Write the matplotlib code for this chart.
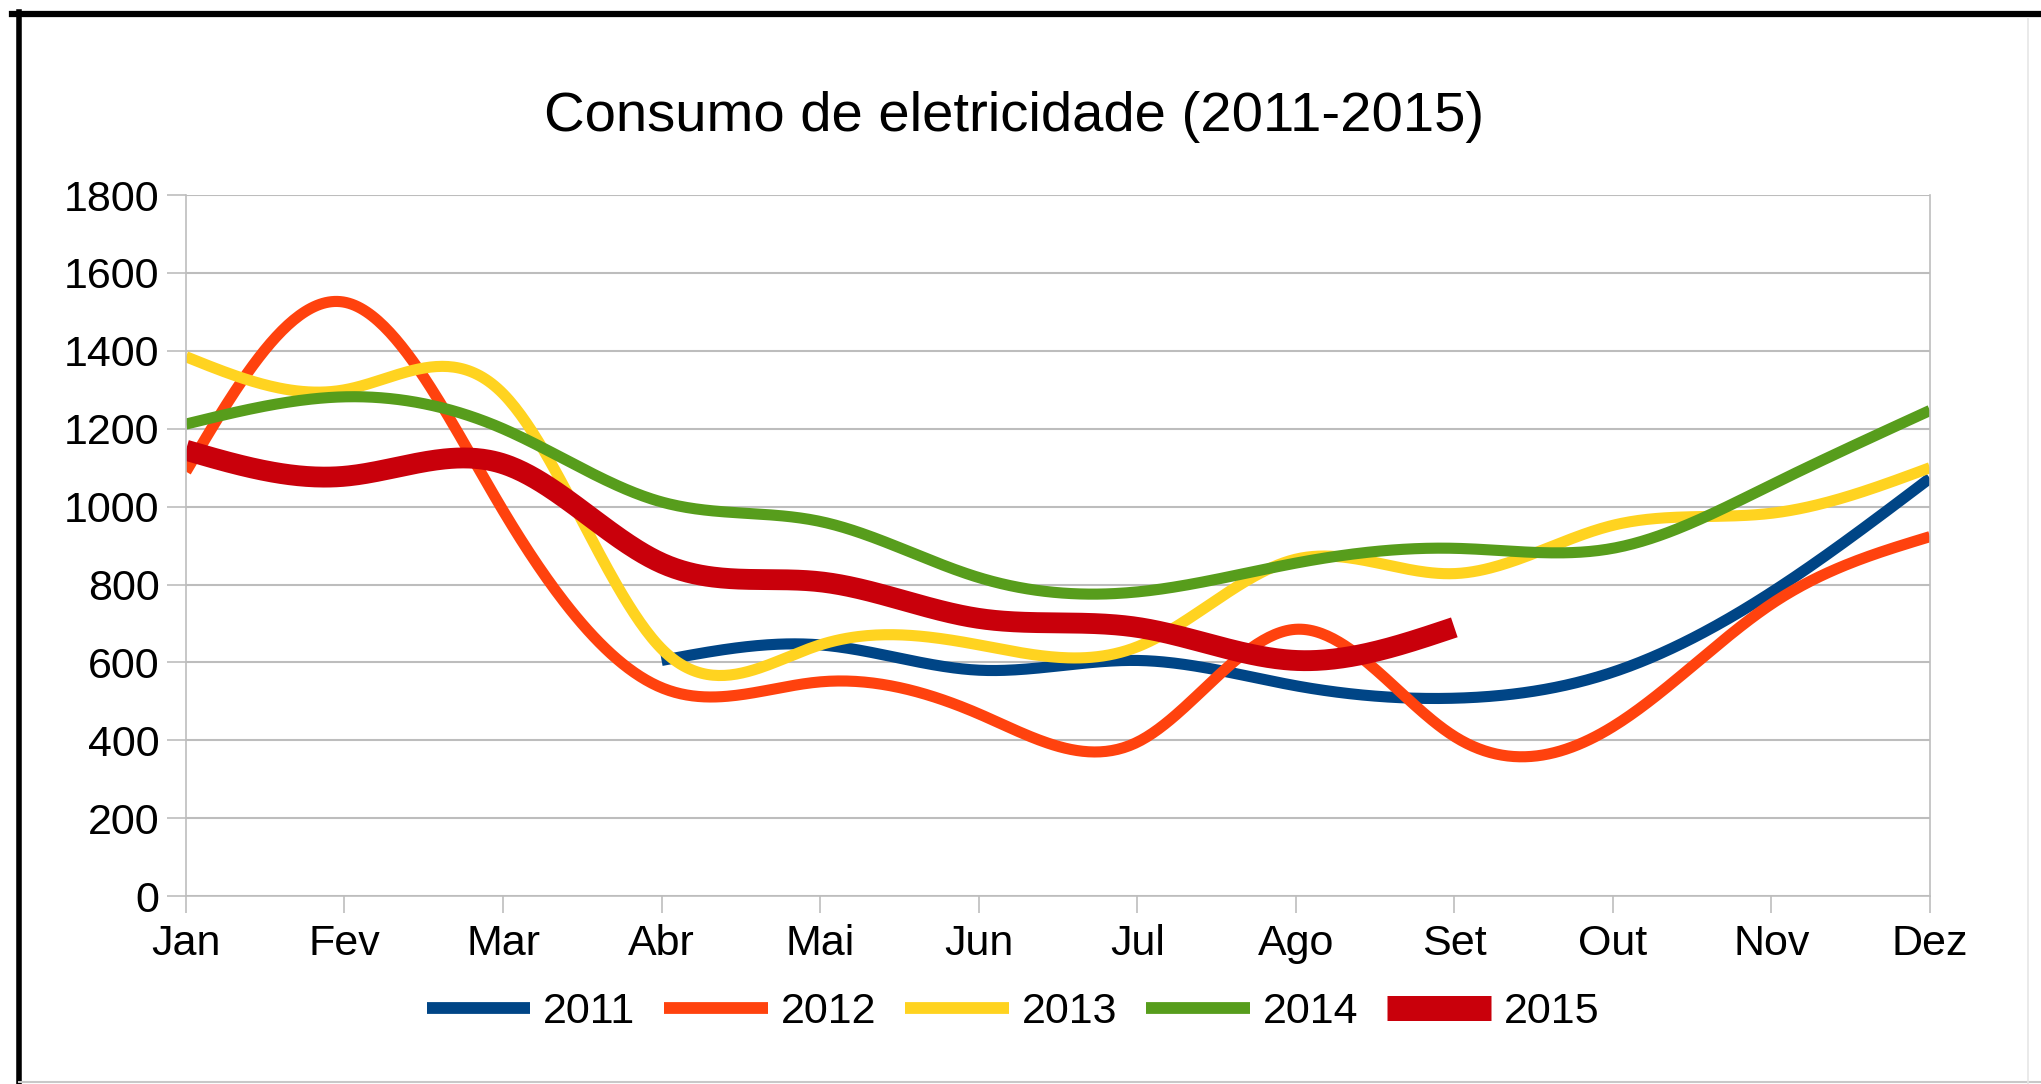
import numpy as np
import matplotlib
matplotlib.use("Agg")
import matplotlib.pyplot as plt
from matplotlib.lines import Line2D

plt.rcParams['font.family'] = ['Liberation Sans', 'DejaVu Sans']

months = ['Jan', 'Fev', 'Mar', 'Abr', 'Mai', 'Jun', 'Jul', 'Ago', 'Set', 'Out', 'Nov', 'Dez']
c2011 = [None, None, None, 605, 645, 580, 605, 540, 508, 575, 780, 1073]
c2012 = [1090, 1525, 990, 535, 550, 468, 395, 685, 410, 435, 750, 923]
c2013 = [1385, 1300, 1290, 635, 645, 645, 640, 865, 828, 952, 983, 1100]
c2014 = [1212, 1282, 1200, 1012, 962, 818, 781, 855, 893, 893, 1056, 1247]
c2015 = [1145, 1078, 1110, 855, 807, 713, 690, 605, 690]
years = ['2011', '2012', '2013', '2014', '2015']
yticks = [0, 200, 400, 600, 800, 1000, 1200, 1400, 1600, 1800]

colors = ['#004586', '#ff420e', '#ffd320', '#579d1c', '#c9000b']
widths = [8, 8, 8, 8, 15]
legend_widths = [8.5, 8.5, 8.5, 8.5, 18]


def natural_spline(x, y, n=600):
    x = np.asarray(x, float)
    y = np.asarray(y, float)
    m = len(x)
    h = np.diff(x)
    A = np.zeros((m, m))
    b = np.zeros(m)
    A[0, 0] = 1
    A[-1, -1] = 1
    for i in range(1, m - 1):
        A[i, i - 1] = h[i - 1]
        A[i, i] = 2 * (h[i - 1] + h[i])
        A[i, i + 1] = h[i]
        b[i] = 6 * ((y[i + 1] - y[i]) / h[i] - (y[i] - y[i - 1]) / h[i - 1])
    M = np.linalg.solve(A, b)
    xs = np.linspace(x[0], x[-1], n)
    idx = np.clip(np.searchsorted(x, xs) - 1, 0, m - 2)
    x0, x1 = x[idx], x[idx + 1]
    hh = x1 - x0
    t0 = x1 - xs
    t1 = xs - x0
    ys = (M[idx] * t0 ** 3 / (6 * hh) + M[idx + 1] * t1 ** 3 / (6 * hh)
          + (y[idx] / hh - M[idx] * hh / 6) * t0
          + (y[idx + 1] / hh - M[idx + 1] * hh / 6) * t1)
    return xs, ys


fig = plt.figure(figsize=(20.41, 10.84), dpi=100)
ax = fig.add_axes([0.0911, 0.1734, 0.8545, 0.6466])

series = [c2011, c2012, c2013, c2014, c2015]
handles = []
for vals, col, lw, llw in zip(series, colors, widths, legend_widths):
    xi = [i for i, v in enumerate(vals) if v is not None]
    yi = [v for v in vals if v is not None]
    xs, ys = natural_spline(xi, yi)
    ax.plot(xs, ys, color=col, lw=lw, solid_capstyle='butt', solid_joinstyle='round')
    handles.append(Line2D([0], [0], color=col, lw=llw, solid_capstyle='butt'))

ax.set_xlim(0, 11)
ax.set_ylim(0, 1800)
ax.set_xticks(range(12))
ax.set_xticklabels(months)
ax.set_yticks(yticks)
ax.set_yticklabels([str(v) for v in yticks])
ax.grid(axis='y', color='#bdbdbd', lw=1.5)
ax.set_axisbelow(True)
for s in ['left', 'right', 'bottom']:
    ax.spines[s].set_color('#bdbdbd')
    ax.spines[s].set_linewidth(1.2)
ax.spines['top'].set_visible(False)
ax.tick_params(axis='both', colors='#bdbdbd', labelcolor='black', labelsize=31, width=1.2)
ax.tick_params(axis='y', length=14, pad=5)
ax.tick_params(axis='x', length=12, pad=8)

fig.text(0.497, 0.892, 'Consumo de eletricidade (2011-2015)', ha='center', va='center', fontsize=40.5)

fig.legend(handles, years, loc='center', bbox_to_anchor=(0.4963, 0.066), ncol=5, frameon=False,
           fontsize=31, handlelength=2.4, handletextpad=0.3, columnspacing=0.68)

# outer frame of the original screenshot
fig.add_artist(Line2D([12 / 2041, 1], [1 - 14 / 1084, 1 - 14 / 1084], transform=fig.transFigure, color='black', lw=4.5))
fig.add_artist(Line2D([19 / 2041, 19 / 2041], [1 - 12 / 1084, 0], transform=fig.transFigure, color='black', lw=4))
fig.add_artist(Line2D([19 / 2041, 1], [2 / 1084, 2 / 1084], transform=fig.transFigure, color='#c8c8c8', lw=1.5))
fig.add_artist(Line2D([2028 / 2041, 2028 / 2041], [1 - 18 / 1084, 0], transform=fig.transFigure, color='#e6e6e6', lw=1.2))

fig.savefig('out.png', dpi=100, facecolor='white')
